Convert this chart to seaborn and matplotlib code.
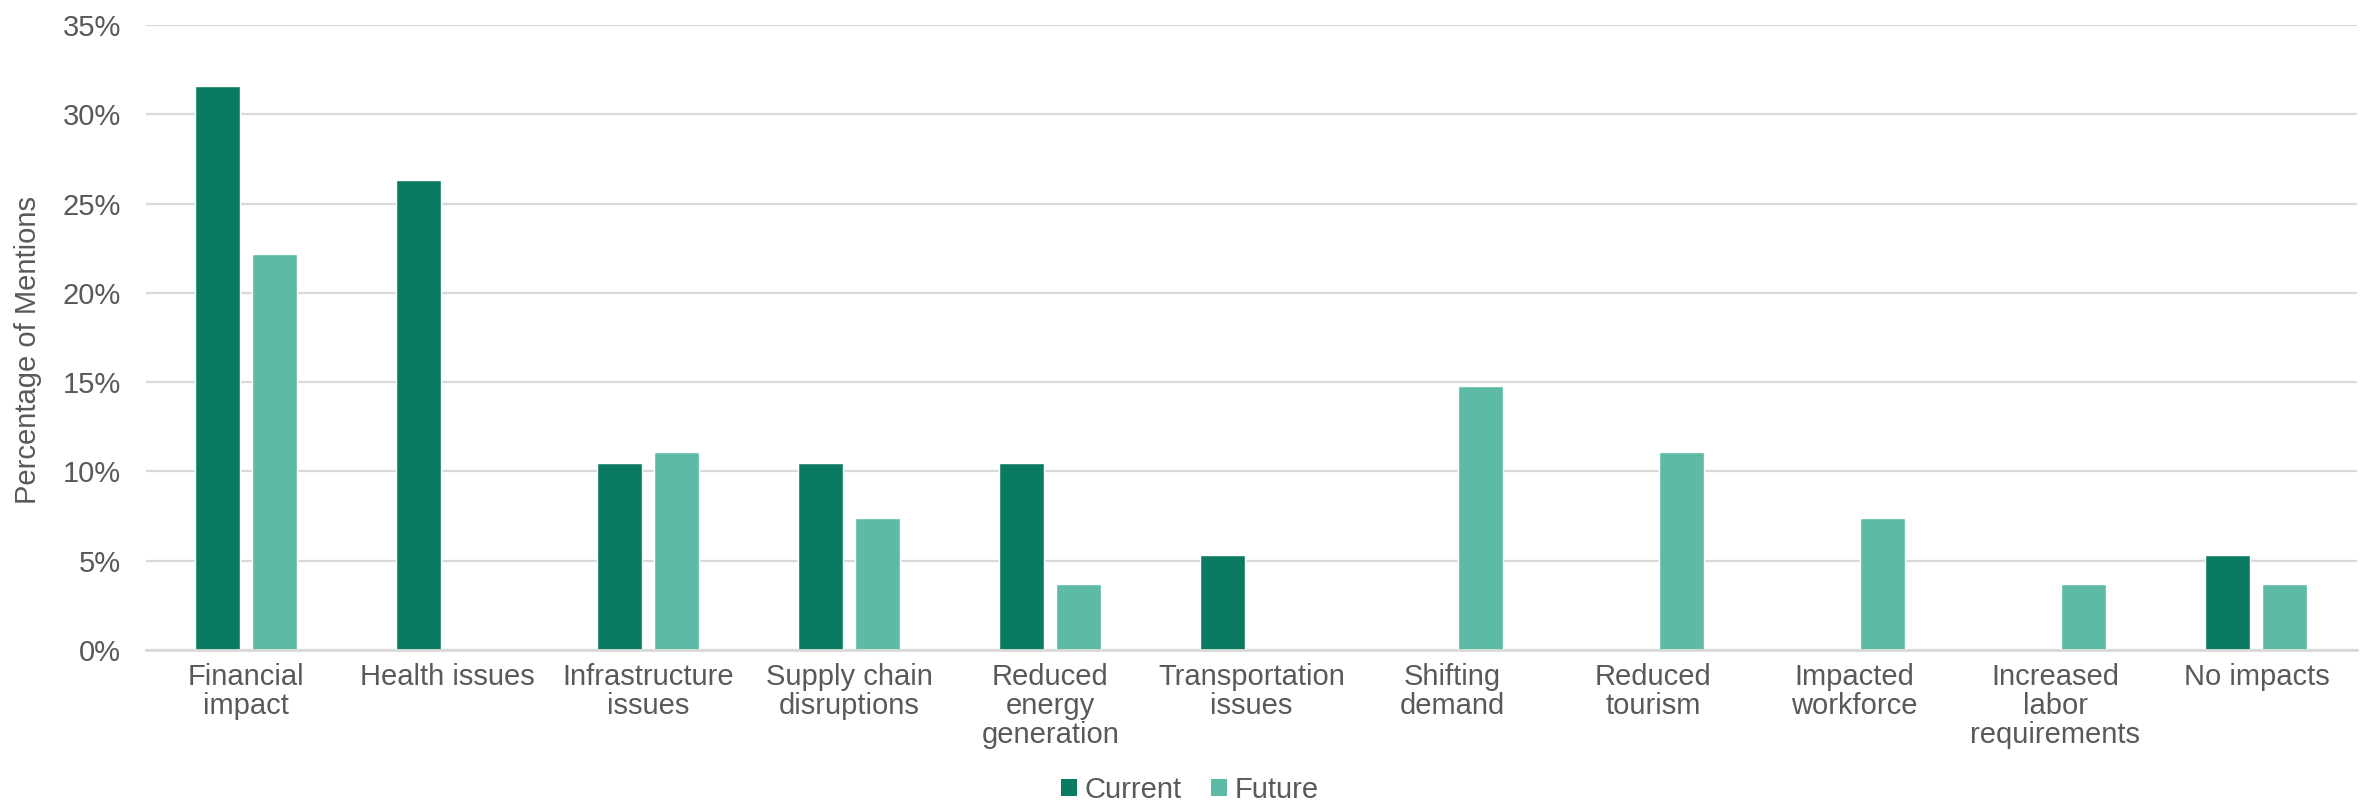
import matplotlib
matplotlib.use("Agg")
import matplotlib.pyplot as plt
import seaborn as sns
import pandas as pd
from matplotlib.ticker import PercentFormatter, MultipleLocator
from matplotlib.patches import Patch

categories = [
    "Financial\nimpact", "Health issues", "Infrastructure\nissues",
    "Supply chain\ndisruptions", "Reduced\nenergy\ngeneration",
    "Transportation\nissues", "Shifting\ndemand", "Reduced\ntourism",
    "Impacted\nworkforce", "Increased\nlabor\nrequirements", "No impacts",
]
current = [31.6, 26.3, 10.5, 10.5, 10.5, 5.3, 0.0, 0.0, 0.0, 0.0, 5.3]
future = [22.2, 0.0, 11.1, 7.4, 3.7, 0.0, 14.8, 11.1, 7.4, 3.7, 3.7]
series = ["Current", "Future"]
colors = {"Current": "#0B7A62", "Future": "#5DBBA5"}

df = pd.DataFrame({
    "category": categories * 2,
    "value": current + future,
    "series": [series[0]] * len(categories) + [series[1]] * len(categories),
})

sns.set_theme(style="white")
plt.rcParams["font.family"] = ["Liberation Sans", "DejaVu Sans"]

text_color = "#595959"
fs = 21
fig = plt.figure(figsize=(23.61, 8.05), dpi=100)
ax = fig.add_axes([0.0618, 0.1925, 0.9365, 0.7765])

sns.barplot(data=df, x="category", y="value", hue="series", palette=colors,
            order=categories, hue_order=series, width=0.567, gap=0.21,
            saturation=1, legend=False, ax=ax)

ax.set_ylim(0, 35)
ax.set_xlim(-0.5, len(categories) - 0.5)
ax.yaxis.set_major_locator(MultipleLocator(5))
ax.yaxis.set_major_formatter(PercentFormatter(decimals=0))
ax.grid(axis="y", color="#d9d9d9", linewidth=1.6)
ax.set_axisbelow(True)
for side in ["top", "right", "left"]:
    ax.spines[side].set_visible(False)
ax.spines["bottom"].set_color("#d9d9d9")
ax.spines["bottom"].set_linewidth(2)

ax.tick_params(axis="both", length=0, labelsize=fs, labelcolor=text_color)
ax.tick_params(axis="x", pad=9)
ax.tick_params(axis="y", pad=18)
for lbl in ax.get_xticklabels():
    lbl.set_linespacing(1.05)

ax.set_xlabel("")
ax.set_ylabel("Percentage of Mentions", fontsize=fs, color=text_color)
ax.yaxis.set_label_coords(-0.047, 0.48)

handles = [Patch(facecolor=colors[s], edgecolor="none", label=s) for s in series]
fig.legend(handles=handles, loc="center", bbox_to_anchor=(0.504, 0.019),
           ncol=2, frameon=False, fontsize=fs, labelcolor=text_color,
           handlelength=0.55, handleheight=0.55, handletextpad=0.25, columnspacing=1.0)

fig.savefig("out.png", dpi=100)
